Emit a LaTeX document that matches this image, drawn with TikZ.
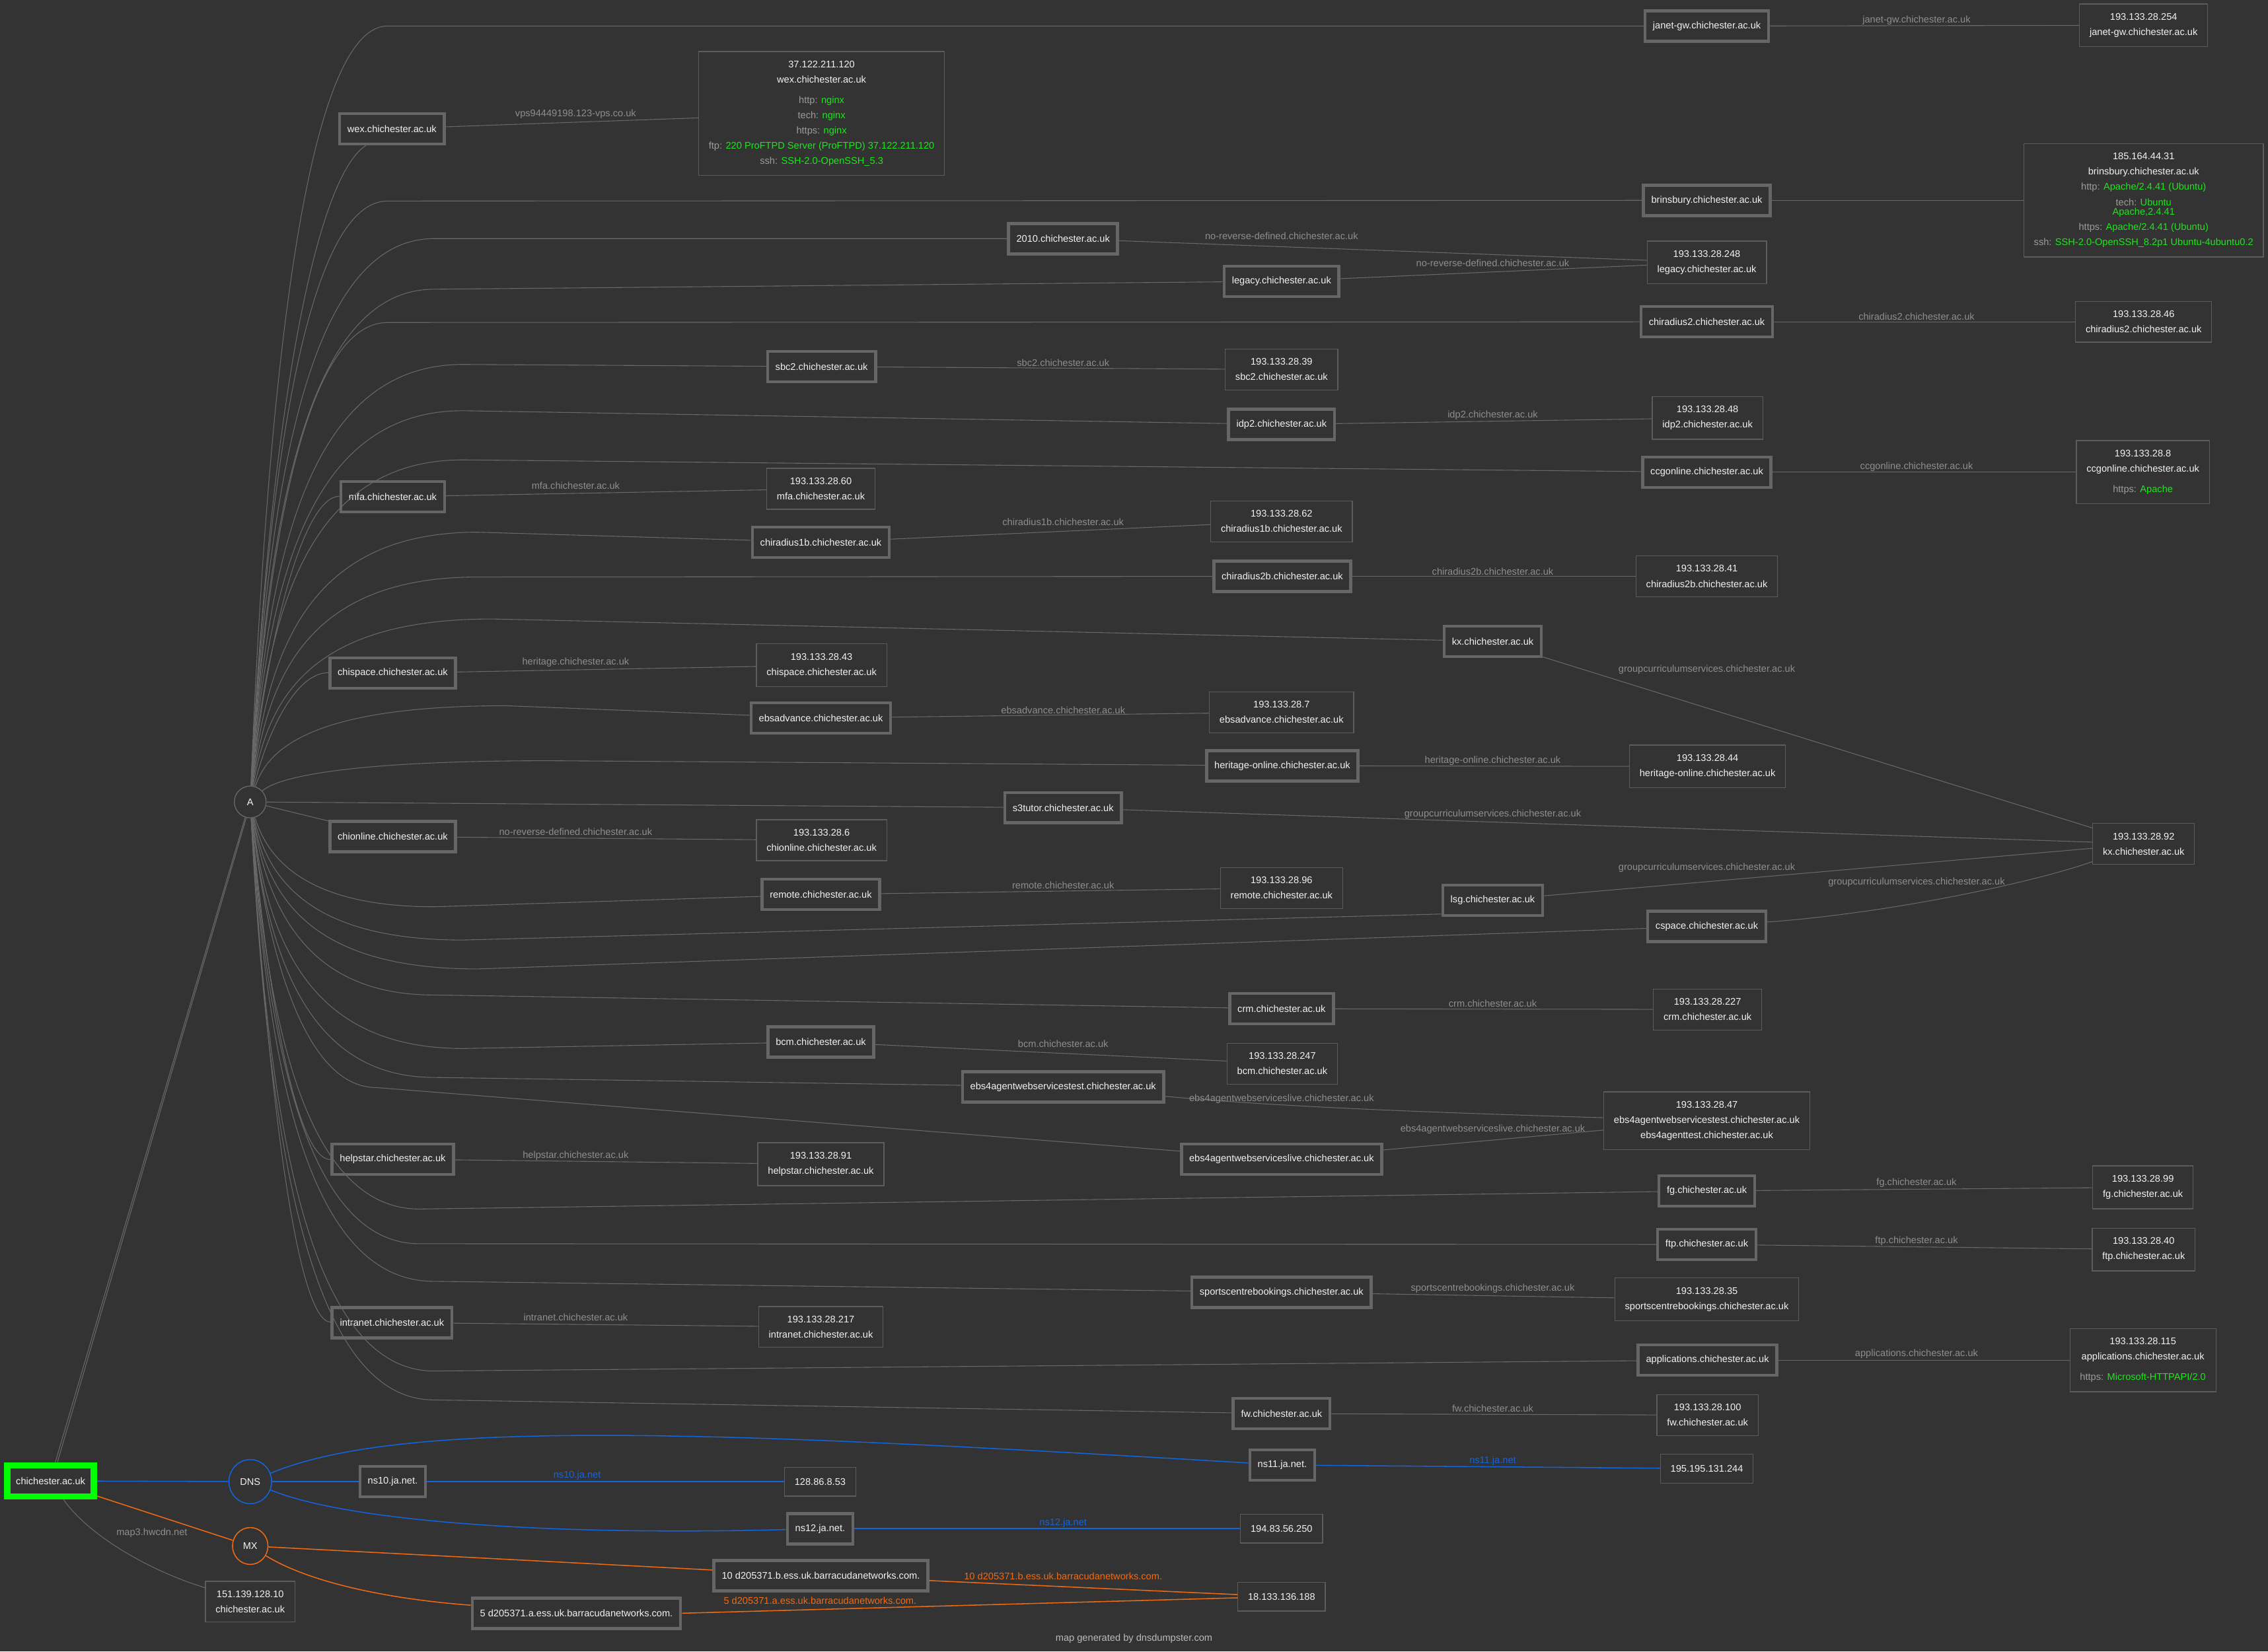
\documentclass[tikz,border=0pt]{standalone}
\usepackage{fontspec}
\setmainfont{Liberation Sans}
\usetikzlibrary{shapes.geometric}
\definecolor{bg}{HTML}{333333}
\definecolor{linkgray}{HTML}{686868}
\definecolor{subgray}{HTML}{666666}
\definecolor{ipgray}{HTML}{5C5C5C}
\definecolor{nodetext}{HTML}{F2F2F2}
\definecolor{lblgray}{HTML}{8E8E8E}
\definecolor{keygray}{HTML}{9C9C9C}
\definecolor{valgreen}{HTML}{1EE61E}
\definecolor{maingreen}{HTML}{00FF00}
\definecolor{dnsblue}{HTML}{1464DC}
\definecolor{mxorange}{HTML}{F06A14}
\definecolor{footgray}{HTML}{BBBBBB}
\newcommand{\svc}[2]{\textcolor{keygray}{#1} \textcolor{valgreen}{#2}}
\begin{document}
\begin{tikzpicture}[
   x=0.02cm, y={(0,-0.02cm)},
   font=\fontsize{3.8}{6}\selectfont,
   main/.style={draw=maingreen,line width=0.09cm,fill=bg,text=nodetext,minimum width=1.19cm,minimum height=0.43cm},
   sub/.style={draw=subgray,line width=0.042cm,fill=bg,text=nodetext,minimum height=0.42cm,inner xsep=0.108cm},
   ip/.style={draw=ipgray,line width=0.012cm,fill=bg,text=nodetext,align=center,inner xsep=0.14cm,inner ysep=0.13cm,minimum height=0.4cm},
   hub/.style={circle,draw=linkgray,line width=0.012cm,text=nodetext,minimum size=0.44cm,inner sep=0pt},
   rec/.style={ellipse,line width=0.014cm,text=nodetext,inner sep=0pt},
   link/.style={draw=linkgray,line width=0.01cm},
   dns/.style={draw=dnsblue,line width=0.014cm},
   mx/.style={draw=mxorange,line width=0.014cm},
   lbl/.style={text=lblgray,inner sep=0pt}]
\useasboundingbox (0,0) rectangle (1568,1142);
\fill[bg] (0,0) rectangle (1568,1142);
% root and record types
\node[main] (main) at (35,1024) {chichester.ac.uk};
\node[hub] (A) at (173,554.5) {A};
\node[rec,draw=dnsblue,minimum width=0.59cm,minimum height=0.61cm] (DNS) at (173,1024.5) {DNS};
\node[rec,draw=mxorange,minimum width=0.49cm,minimum height=0.51cm] (MX) at (173,1069) {MX};
% host names
\node[sub] (janet) at (1180,18) {janet-gw.chichester.ac.uk};
\node[sub] (wex) at (271,89) {wex.chichester.ac.uk};
\node[sub] (brinsbury) at (1180,138.5) {brinsbury.chichester.ac.uk};
\node[sub] (y2010) at (735,165) {2010.chichester.ac.uk};
\node[sub] (legacy) at (886,194.5) {legacy.chichester.ac.uk};
\node[sub] (chiradius2) at (1180,222.5) {chiradius2.chichester.ac.uk};
\node[sub] (sbc2) at (568,253.5) {sbc2.chichester.ac.uk};
\node[sub] (idp2) at (886,293.5) {idp2.chichester.ac.uk};
\node[sub] (ccgonline) at (1180,326.5) {ccgonline.chichester.ac.uk};
\node[sub] (mfa) at (271.5,343.5) {mfa.chichester.ac.uk};
\node[sub] (chiradius1b) at (567.5,375) {chiradius1b.chichester.ac.uk};
\node[sub] (chiradius2b) at (886.5,398.5) {chiradius2b.chichester.ac.uk};
\node[sub] (kx) at (1032,443.5) {kx.chichester.ac.uk};
\node[sub] (chispace) at (271.5,465.5) {chispace.chichester.ac.uk};
\node[sub] (ebsadvance) at (567.5,496.5) {ebsadvance.chichester.ac.uk};
\node[sub] (heritageonl) at (886.5,529.5) {heritage-online.chichester.ac.uk};
\node[sub] (s3tutor) at (735,558.5) {s3tutor.chichester.ac.uk};
\node[sub] (chionline) at (271.5,578.5) {chionline.chichester.ac.uk};
\node[sub] (remote) at (567.5,618.5) {remote.chichester.ac.uk};
\node[sub] (lsg) at (1032,622.5) {lsg.chichester.ac.uk};
\node[sub] (cspace) at (1180,640.5) {cspace.chichester.ac.uk};
\node[sub] (crm) at (886,697.5) {crm.chichester.ac.uk};
\node[sub] (bcm) at (567.5,720.5) {bcm.chichester.ac.uk};
\node[sub] (ebstest) at (735,751.5) {ebs4agentwebservicestest.chichester.ac.uk};
\node[sub] (ebslive) at (886,801.5) {ebs4agentwebserviceslive.chichester.ac.uk};
\node[sub] (helpstar) at (271.5,801.5) {helpstar.chichester.ac.uk};
\node[sub] (fg) at (1180,823.5) {fg.chichester.ac.uk};
\node[sub] (ftp) at (1180,860.5) {ftp.chichester.ac.uk};
\node[sub] (sports) at (886,893.5) {sportscentrebookings.chichester.ac.uk};
\node[sub] (intranet) at (271,914.5) {intranet.chichester.ac.uk};
\node[sub] (applications) at (1180.5,940.5) {applications.chichester.ac.uk};
\node[sub] (fw) at (886,977.5) {fw.chichester.ac.uk};
\node[sub] (ns10) at (271.5,1024.5) {ns10.ja.net.};
\node[sub] (ns11) at (886.5,1013) {ns11.ja.net.};
\node[sub] (ns12) at (567,1057) {ns12.ja.net.};
\node[sub] (b10) at (567.5,1089.5) {10 d205371.b.ess.uk.barracudanetworks.com.};
\node[sub] (b5) at (398.5,1115.5) {5 d205371.a.ess.uk.barracudanetworks.com.};
% addresses
\node[ip] (ipjanet) at (1482,17.5) {193.133.28.254\\janet-gw.chichester.ac.uk};
\node[ip] (ipwex) at (568,78.5) {37.122.211.120\\wex.chichester.ac.uk\\[2pt]\svc{http:}{nginx}\\\svc{tech:}{nginx}\\\svc{https:}{nginx}\\\svc{ftp:}{220 ProFTPD Server (ProFTPD) 37.122.211.120}\\\svc{ssh:}{SSH-2.0-OpenSSH\_5.3}};
\node[ip] (ipbrins) at (1482,138.5) {185.164.44.31\\brinsbury.chichester.ac.uk\\\svc{http:}{Apache/2.4.41 (Ubuntu)}\\\svc{tech:}{Ubuntu}\\[-2.2pt]\textcolor{valgreen}{Apache,2.4.41}\\\svc{https:}{Apache/2.4.41 (Ubuntu)}\\\svc{ssh:}{SSH-2.0-OpenSSH\_8.2p1 Ubuntu-4ubuntu0.2}};
\node[ip] (iplegacy) at (1180,181.5) {193.133.28.248\\legacy.chichester.ac.uk};
\node[ip] (ipchir2) at (1482,222.5) {193.133.28.46\\chiradius2.chichester.ac.uk};
\node[ip] (ipsbc2) at (886,255.5) {193.133.28.39\\sbc2.chichester.ac.uk};
\node[ip] (ipidp2) at (1180.5,289) {193.133.28.48\\idp2.chichester.ac.uk};
\node[ip] (ipccg) at (1481.5,326.5) {193.133.28.8\\ccgonline.chichester.ac.uk\\[2pt]\svc{https:}{Apache}};
\node[ip] (ipmfa) at (567.5,338) {193.133.28.60\\mfa.chichester.ac.uk};
\node[ip] (ipchir1b) at (886,360.5) {193.133.28.62\\chiradius1b.chichester.ac.uk};
\node[ip] (ipchir2b) at (1180,398.5) {193.133.28.41\\chiradius2b.chichester.ac.uk};
\node[ip] (ipkx) at (1482,583.5) {193.133.28.92\\kx.chichester.ac.uk};
\node[ip] (ipchispace) at (568,460) {193.133.28.43\\chispace.chichester.ac.uk};
\node[ip] (ipebsadv) at (886,492.5) {193.133.28.7\\ebsadvance.chichester.ac.uk};
\node[ip] (ipheronl) at (1180.5,530) {193.133.28.44\\heritage-online.chichester.ac.uk};
\node[ip] (ipchionl) at (568,581) {193.133.28.6\\chionline.chichester.ac.uk};
\node[ip] (ipremote) at (886,614) {193.133.28.96\\remote.chichester.ac.uk};
\node[ip] (ipcrm) at (1180.5,698) {193.133.28.227\\crm.chichester.ac.uk};
\node[ip] (ipbcm) at (886.5,735.5) {193.133.28.247\\bcm.chichester.ac.uk};
\node[ip] (ipebs4) at (1180,775) {193.133.28.47\\ebs4agentwebservicestest.chichester.ac.uk\\ebs4agenttest.chichester.ac.uk};
\node[ip] (iphelp) at (567.5,805) {193.133.28.91\\helpstar.chichester.ac.uk};
\node[ip] (ipfg) at (1481.5,821) {193.133.28.99\\fg.chichester.ac.uk};
\node[ip] (ipftp) at (1482,864) {193.133.28.40\\ftp.chichester.ac.uk};
\node[ip] (ipsports) at (1180,898.5) {193.133.28.35\\sportscentrebookings.chichester.ac.uk};
\node[ip] (ipintra) at (567.5,917.5) {193.133.28.217\\intranet.chichester.ac.uk};
\node[ip] (ipapps) at (1481.5,940.5) {193.133.28.115\\applications.chichester.ac.uk\\[2pt]\svc{https:}{Microsoft-HTTPAPI/2.0}};
\node[ip] (ipfw) at (1180.5,978.5) {193.133.28.100\\fw.chichester.ac.uk};
\node[ip] (ip128) at (567,1024.5) {128.86.8.53};
\node[ip] (ip195) at (1180,1015.5) {195.195.131.244};
\node[ip] (ip194) at (886,1057) {194.83.56.250};
\node[ip] (ip18) at (886,1104) {18.133.136.188};
\node[ip] (ip151) at (173,1107.5) {151.139.128.10\\chichester.ac.uk};
\node[text=footgray] (footer) at (784,1133) {map generated by dnsdumpster.com};
% root links
\draw[link] (main.76) -- (A.252);
\draw[link] (main.70) -- (A.256);
\draw[dns] (main) -- (DNS);
\draw[mx] (main) -- (MX);
\draw[link] (main) .. controls (60,1060) and (100,1085) .. (ip151) node[lbl] at (105,1060) {map3.hwcdn.net};
% A records
\draw[link] (A) .. controls (185,259) and (212,18) .. (268,18) -- (janet);
\draw[link] (A) .. controls (185,310) and (215,125) .. (wex);
\draw[link] (A) .. controls (185,326) and (212,139) .. (268,139) -- (brinsbury);
\draw[link] (A) .. controls (185,340) and (212,165) .. (300,165) -- (y2010);
\draw[link] (A) .. controls (185,359) and (212,200) .. (300,200) -- (legacy);
\draw[link] (A) .. controls (185,372) and (212,223) .. (268,223) -- (chiradius2);
\draw[link] (A) .. controls (185,388) and (212,252) .. (320,252) -- (sbc2);
\draw[link] (A) .. controls (185,406) and (212,284) .. (320,284) -- (idp2);
\draw[link] (A) .. controls (185,424) and (212,318) .. (320,318) -- (ccgonline);
\draw[link] (A) .. controls (185,438) and (210,343) .. (mfa);
\draw[link] (A) .. controls (185,452) and (212,368) .. (330,368) -- (chiradius1b);
\draw[link] (A) .. controls (185,469) and (212,399) .. (330,399) -- (chiradius2b);
\draw[link] (A) .. controls (185,485) and (212,428) .. (340,428) -- (kx);
\draw[link] (A) .. controls (185,505) and (205,465) .. (chispace);
\draw[link] (A) .. controls (185,518) and (215,488) .. (350,488) -- (ebsadvance);
\draw[link] (A) .. controls (190,539) and (230,526) .. (380,526) -- (heritageonl);
\draw[link] (A) -- (s3tutor);
\draw[link] (A) -- (chionline);
\draw[link] (A) .. controls (185,594) and (212,627) .. (300,627) -- (remote);
\draw[link] (A) .. controls (185,606) and (212,650) .. (320,650) -- (lsg.195);
\draw[link] (A) .. controls (185,618) and (212,670) .. (330,670) -- (cspace);
\draw[link] (A) .. controls (185,628) and (212,688) .. (300,688) -- (crm);
\draw[link] (A) .. controls (185,648) and (212,725) .. (320,725) -- (bcm);
\draw[link] (A) .. controls (185,659) and (212,745) .. (300,745) -- (ebstest);
\draw[link] (A) .. controls (185,663) and (212,752) .. (260,752) -- (ebslive);
\draw[link] (A) .. controls (185,690) and (205,802) .. (helpstar);
\draw[link] (A) .. controls (185,709) and (212,836) .. (290,836) -- (fg);
\draw[link] (A) .. controls (185,722) and (212,860) .. (290,860) -- (ftp);
\draw[link] (A) .. controls (185,737) and (212,886) .. (300,886) -- (sports);
\draw[link] (A) .. controls (185,752) and (205,914) .. (intranet);
\draw[link] (A) .. controls (185,771) and (212,948) .. (300,948) -- (applications);
\draw[link] (A) .. controls (185,782) and (212,968) .. (300,968) -- (fw);
% host to address
\draw[link] (janet) -- (ipjanet) node[lbl] at (1325,14) {janet-gw.chichester.ac.uk};
\draw[link] (wex) -- (ipwex) node[lbl] at (398,79) {vps94449198.123-vps.co.uk};
\draw[link] (brinsbury) -- (ipbrins);
\draw[link] (y2010) -- (iplegacy) node[lbl] at (886,163) {no-reverse-defined.chichester.ac.uk};
\draw[link] (legacy) -- (iplegacy) node[lbl] at (1032,182) {no-reverse-defined.chichester.ac.uk};
\draw[link] (chiradius2) -- (ipchir2) node[lbl] at (1325,219) {chiradius2.chichester.ac.uk};
\draw[link] (sbc2) -- (ipsbc2) node[lbl] at (735,251) {sbc2.chichester.ac.uk};
\draw[link] (idp2) -- (ipidp2) node[lbl] at (1032,287) {idp2.chichester.ac.uk};
\draw[link] (ccgonline) -- (ipccg) node[lbl] at (1325,323) {ccgonline.chichester.ac.uk};
\draw[link] (mfa) -- (ipmfa) node[lbl] at (398,336) {mfa.chichester.ac.uk};
\draw[link] (chiradius1b) -- (ipchir1b) node[lbl] at (735,361) {chiradius1b.chichester.ac.uk};
\draw[link] (chiradius2b) -- (ipchir2b) node[lbl] at (1032,395) {chiradius2b.chichester.ac.uk};
\draw[link] (kx) -- (ipkx) node[lbl] at (1180,463) {groupcurriculumservices.chichester.ac.uk};
\draw[link] (chispace) -- (ipchispace) node[lbl] at (398,458) {heritage.chichester.ac.uk};
\draw[link] (ebsadvance) -- (ipebsadv) node[lbl] at (735,491) {ebsadvance.chichester.ac.uk};
\draw[link] (heritageonl) -- (ipheronl) node[lbl] at (1032,526) {heritage-online.chichester.ac.uk};
\draw[link] (s3tutor) -- (ipkx) node[lbl] at (1032,563) {groupcurriculumservices.chichester.ac.uk};
\draw[link] (chionline) -- (ipchionl) node[lbl] at (398,575) {no-reverse-defined.chichester.ac.uk};
\draw[link] (remote) -- (ipremote) node[lbl] at (735,612) {remote.chichester.ac.uk};
\draw[link] (lsg) -- (ipkx) node[lbl] at (1180,600) {groupcurriculumservices.chichester.ac.uk};
\draw[link] (cspace) .. controls (1300,632) and (1400,612) .. (ipkx) node[lbl] at (1325,610) {groupcurriculumservices.chichester.ac.uk};
\draw[link] (crm) -- (ipcrm) node[lbl] at (1032,694) {crm.chichester.ac.uk};
\draw[link] (bcm) -- (ipbcm) node[lbl] at (735,722) {bcm.chichester.ac.uk};
\draw[link] (ebstest) .. controls (880,765) and (980,769) .. (ipebs4) node[lbl] at (886,760) {ebs4agentwebserviceslive.chichester.ac.uk};
\draw[link] (ebslive) -- (ipebs4) node[lbl] at (1032,781) {ebs4agentwebserviceslive.chichester.ac.uk};
\draw[link] (helpstar) -- (iphelp) node[lbl] at (398,799) {helpstar.chichester.ac.uk};
\draw[link] (fg) -- (ipfg) node[lbl] at (1325,818) {fg.chichester.ac.uk};
\draw[link] (ftp) -- (ipftp) node[lbl] at (1325,858) {ftp.chichester.ac.uk};
\draw[link] (sports) -- (ipsports) node[lbl] at (1032,891) {sportscentrebookings.chichester.ac.uk};
\draw[link] (intranet) -- (ipintra) node[lbl] at (398,911) {intranet.chichester.ac.uk};
\draw[link] (applications) -- (ipapps) node[lbl] at (1325,936) {applications.chichester.ac.uk};
\draw[link] (fw) -- (ipfw) node[lbl] at (1032,974) {fw.chichester.ac.uk};
% DNS and MX records
\draw[dns] (DNS) -- (ns10);
\draw[dns] (DNS) .. controls (280,980) and (500,990) .. (ns11);
\draw[dns] (DNS) .. controls (240,1052) and (380,1062) .. (ns12);
\draw[dns] (ns10) -- (ip128) node[lbl,text=dnsblue] at (399,1020) {ns10.ja.net};
\draw[dns] (ns11) -- (ip195) node[lbl,text=dnsblue] at (1032,1010) {ns11.ja.net};
\draw[dns] (ns12) -- (ip194) node[lbl,text=dnsblue] at (735,1053) {ns12.ja.net};
\draw[mx] (MX) -- (b10);
\draw[mx] (MX) .. controls (210,1092) and (260,1105) .. (b5);
\draw[mx] (b10) -- (ip18) node[lbl,text=mxorange] at (735,1090) {10 d205371.b.ess.uk.barracudanetworks.com.};
\draw[mx] (b5.east) -- (ip18) node[lbl,text=mxorange] at (567,1107) {5 d205371.a.ess.uk.barracudanetworks.com.};
\end{tikzpicture}
\end{document}
